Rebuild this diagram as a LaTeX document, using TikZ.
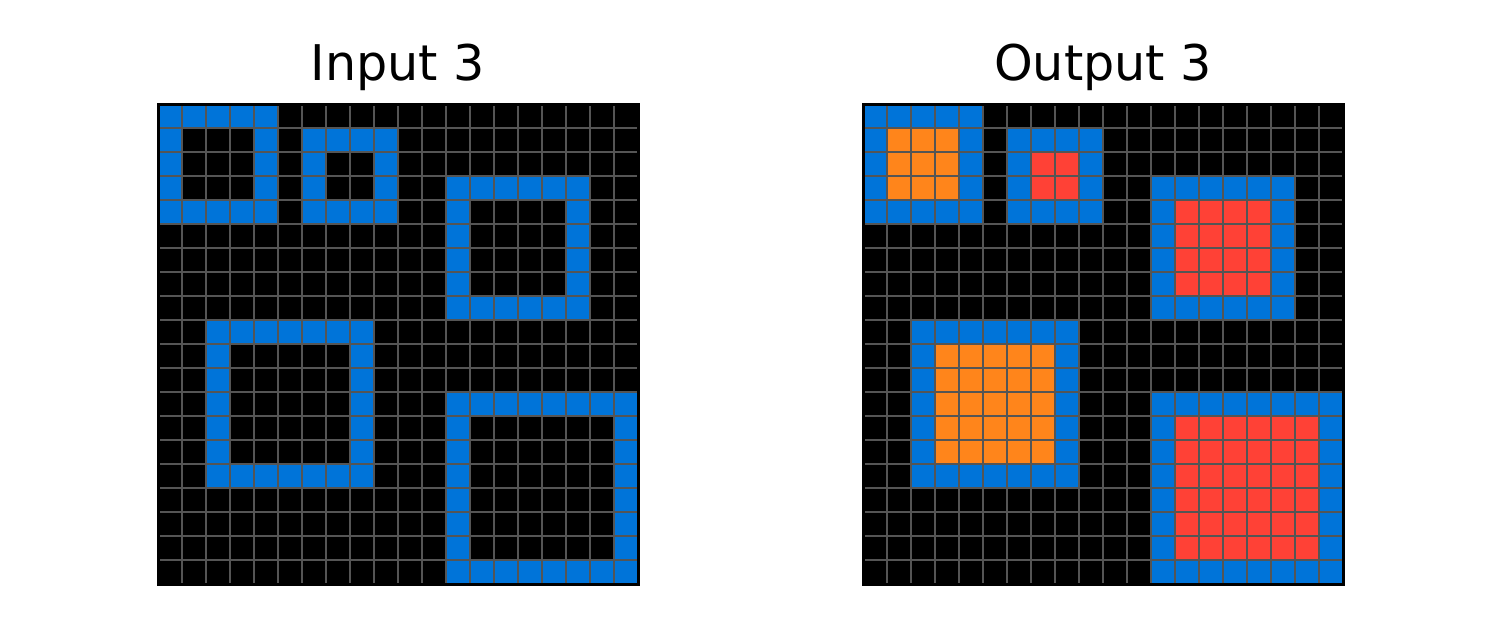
\documentclass[tikz,border=0pt]{standalone}
\usepackage{fontspec}
\setmainfont{DejaVu Sans}
\definecolor{arcblue}{HTML}{0074D9}
\definecolor{arcorange}{HTML}{FF851B}
\definecolor{arcred}{HTML}{FF4136}
\definecolor{gridgray}{HTML}{555555}
\newcommand\arcgridpanel[2]{%
  \begin{scope}[shift={(#1,104)}]
    \fill[black] (0,0) rectangle (480,480);
    \foreach \c/\r/\s/\col in {0/0/5/arcorange, 6/1/4/arcred, 12/3/6/arcred, 2/9/7/arcorange, 12/12/8/arcred}{
      \fill[arcblue] ({24*\c},{24*\r}) rectangle ({24*(\c+\s)},{24*(\r+\s)});
      \ifnum#2=1
        \fill[\col] ({24*(\c+1)},{24*(\r+1)}) rectangle ({24*(\c+\s-1)},{24*(\r+\s-1)});
      \else
        \fill[black] ({24*(\c+1)},{24*(\r+1)}) rectangle ({24*(\c+\s-1)},{24*(\r+\s-1)});
      \fi
    }
    \foreach \i in {1,...,19}{
      \draw[gridline] ({24*\i},0) -- ({24*\i},480);
      \draw[gridline] (0,{24*\i}) -- (480,{24*\i});
    }
    \draw[frameline] (0,0) rectangle (480,480);
  \end{scope}
}
\begin{document}
\begin{tikzpicture}[x=0.5pt,y=-0.5pt,
  title/.style={anchor=base,inner sep=0pt,font=\fontsize{24.6}{30}\selectfont},
  gridline/.style={draw=gridgray,line width=1pt},
  frameline/.style={draw=black,line width=1.5pt}]
\useasboundingbox (0,0) rectangle (1500,629);
\fill[white] (0,0) rectangle (1500,629);
\arcgridpanel{158}{0}
\arcgridpanel{863}{1}
\node[title] (inputtitle) at (398,80.7) {Input 3};
\node[title] (outputtitle) at (1103,80.7) {Output 3};
\end{tikzpicture}
\end{document}
